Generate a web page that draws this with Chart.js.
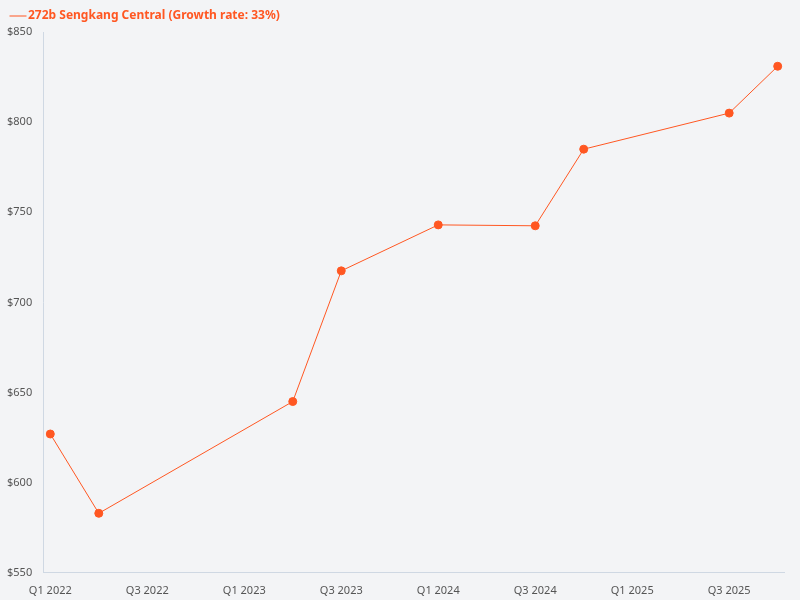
<!DOCTYPE html><html><head><script src="https://cdn.jsdelivr.net/npm/chart.js"></script>
<style>body{margin:0;background:#f3f4f6}#w{width:800px;height:600px}</style></head><body><div id="w"><canvas id="c"></canvas></div><script>
const quarterIdx=[0,1,5,6,8,10,11,14,15];
const prices=[627,583,645,717.5,743,742.5,785,805,831];
const tickLabels=['Q1 2022','Q2 2022','Q3 2022','Q4 2022','Q1 2023','Q2 2023','Q3 2023','Q4 2023','Q1 2024','Q2 2024','Q3 2024','Q4 2024','Q1 2025','Q2 2025','Q3 2025','Q4 2025'];
const seriesName='272b Sengkang Central (Growth rate: 33%)';
const col='#ff5722';
new Chart(document.getElementById('c'),{type:'line',data:{datasets:[{label:seriesName,data:quarterIdx.map((x,i)=>({x,y:prices[i]})),borderColor:col,backgroundColor:col,borderWidth:1,pointRadius:4,pointHoverRadius:4,tension:0}]},
options:{responsive:true,maintainAspectRatio:false,animation:false,layout:{padding:{right:16,left:4}},
plugins:{tooltip:{enabled:false},legend:{position:'top',align:'start',labels:{usePointStyle:true,pointStyle:'line',color:col,font:{family:'Noto Sans',size:12,weight:'bold'},boxWidth:8}}},
scales:{x:{type:'linear',min:-0.147,max:15.13,grid:{display:false},border:{color:'#cfd8e3'},afterBuildTicks:a=>{a.ticks=[0,2,4,6,8,10,12,14].map(v=>({value:v}));},ticks:{color:'#555',font:{family:'Noto Sans',size:11},maxRotation:0,callback:v=>tickLabels[v]}},
y:{min:550,max:850,grid:{display:false},border:{color:'#cfd8e3'},ticks:{stepSize:50,color:'#555',font:{family:'Noto Sans',size:11},callback:v=>'$'+v}}}}});
</script></body></html>
